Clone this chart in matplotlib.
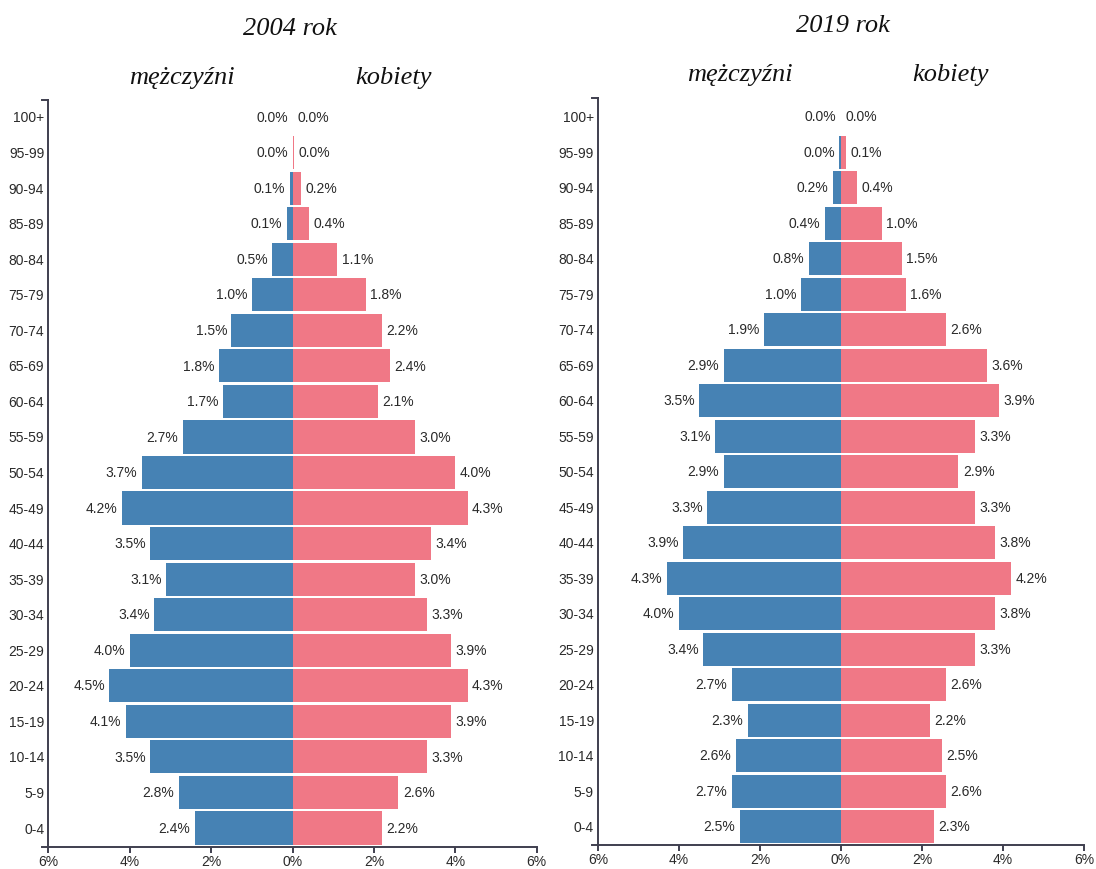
import matplotlib
matplotlib.use("Agg")
import matplotlib.pyplot as plt
from matplotlib.lines import Line2D

plt.rcParams['font.family'] = ['Liberation Sans', 'DejaVu Sans']

age_groups = ['0-4', '5-9', '10-14', '15-19', '20-24', '25-29', '30-34', '35-39',
              '40-44', '45-49', '50-54', '55-59', '60-64', '65-69', '70-74', '75-79',
              '80-84', '85-89', '90-94', '95-99', '100+']

men_2004 = [2.4, 2.8, 3.5, 4.1, 4.5, 4.0, 3.4, 3.1, 3.5, 4.2, 3.7, 2.7, 1.7, 1.8, 1.5,
            1.0, 0.5, 0.14, 0.07, 0.0, 0.0]
women_2004 = [2.2, 2.6, 3.3, 3.9, 4.3, 3.9, 3.3, 3.0, 3.4, 4.3, 4.0, 3.0, 2.1, 2.4, 2.2,
              1.8, 1.1, 0.4, 0.2, 0.04, 0.01]

men_2019 = [2.5, 2.7, 2.6, 2.3, 2.7, 3.4, 4.0, 4.3, 3.9, 3.3, 2.9, 3.1, 3.5, 2.9, 1.9,
            1.0, 0.8, 0.4, 0.2, 0.04, 0.0]
women_2019 = [2.3, 2.6, 2.5, 2.2, 2.6, 3.3, 3.8, 4.2, 3.8, 3.3, 2.9, 3.3, 3.9, 3.6, 2.6,
              1.6, 1.5, 1.0, 0.4, 0.12, 0.01]

x_ticks = [-6, -4, -2, 0, 2, 4, 6]
x_tick_labels = ['6%', '4%', '2%', '0%', '2%', '4%', '6%']

years = ['2004 rok', '2019 rok']
men_label = 'mężczyźni'
women_label = 'kobiety'

BLUE = '#4682B4'
PINK = '#F07886'
AXIS = '#3f3f4f'
TXT = '#2a2a2a'

W, H = 1096, 869
fig = plt.figure(figsize=(W / 100, H / 100), dpi=100)


def rect(x0, x1, ytop, ybot):
    return [x0 / W, 1 - ybot / H, (x1 - x0) / W, (ybot - ytop) / H]


def pyramid(ax, men, women, ylim):
    y = list(range(len(age_groups)))
    ax.barh(y, [-m for m in men], height=0.932, color=BLUE, linewidth=0)
    ax.barh(y, women, height=0.932, color=PINK, linewidth=0)
    for yi, m, w in zip(y, men, women):
        ax.annotate(f'{m:.1f}%', xy=(-m, yi), xytext=(-3.2, -0.5), textcoords='offset points',
                    ha='right', va='center', fontsize=10, color=TXT)
        ax.annotate(f'{w:.1f}%', xy=(w, yi), xytext=(3.2, -0.5), textcoords='offset points',
                    ha='left', va='center', fontsize=10, color=TXT)
    ax.set_xlim(-6, 6)
    ax.set_ylim(*ylim)
    ax.set_yticks(y)
    ax.set_yticklabels(age_groups)
    ax.set_xticks(x_ticks)
    ax.set_xticklabels(x_tick_labels)
    for s in ['top', 'right']:
        ax.spines[s].set_visible(False)
    for s in ['left', 'bottom']:
        ax.spines[s].set_color(AXIS)
        ax.spines[s].set_linewidth(1.4)
    ax.tick_params(axis='y', length=0, pad=3, labelsize=10, labelcolor=TXT)
    ax.tick_params(axis='x', length=4.5, width=1.4, color=AXIS, pad=1.5,
                   labelsize=10, labelcolor=TXT)
    # d3-style outer ticks of the y domain path
    for yy in (0, 1):
        ax.add_line(Line2D([-0.013, 0], [yy, yy], transform=ax.transAxes,
                           color=AXIS, linewidth=1.4, clip_on=False))
    ax.set_facecolor('none')


ax1 = fig.add_axes(rect(48.3, 536.7, 100, 846.7))
pyramid(ax1, men_2004, women_2004, (-0.526, 20.478))

ax2 = fig.add_axes(rect(598, 1084, 98, 845))
pyramid(ax2, men_2019, women_2019, (-0.515, 20.527))

serif = dict(family='Liberation Serif', style='italic', fontsize=19, color='#111111')
fig.text(290 / W, 1 - 35 / H, years[0], ha='center', va='baseline', **serif)
fig.text(842.5 / W, 1 - 32.5 / H, years[1], ha='center', va='baseline', **serif)
fig.text(181.5 / W, 1 - 84 / H, men_label, ha='center', va='baseline', **serif)
fig.text(393.7 / W, 1 - 84 / H, women_label, ha='center', va='baseline', **serif)
fig.text(740 / W, 1 - 80.5 / H, men_label, ha='center', va='baseline', **serif)
fig.text(950 / W, 1 - 80.5 / H, women_label, ha='center', va='baseline', **serif)

fig.savefig('out.png', dpi=100, facecolor='white')
